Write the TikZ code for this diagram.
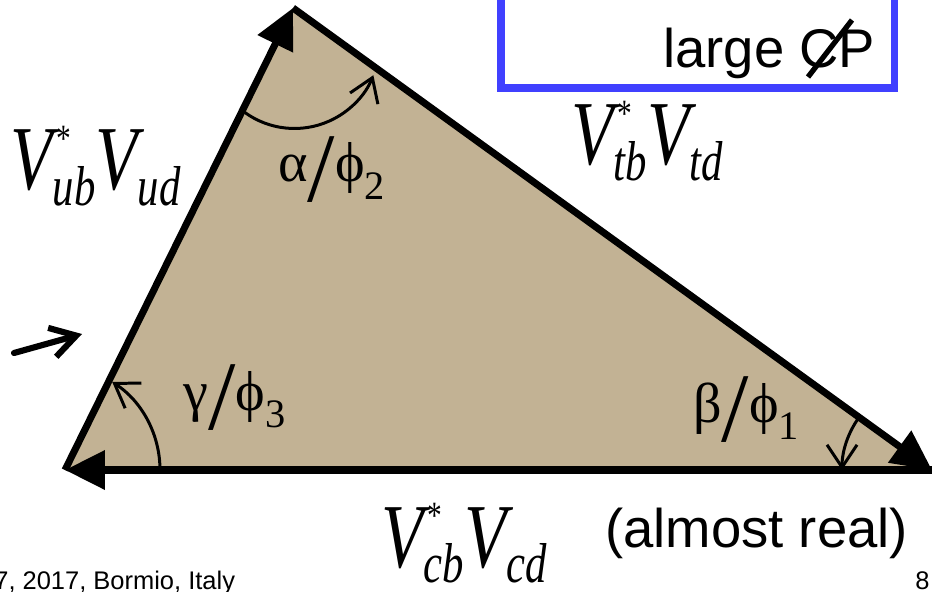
\documentclass[tikz,border=0pt]{standalone}
\usepackage{fontspec}
\setmainfont{Liberation Serif}
\newfontfamily\arialfont{Liberation Sans}
\usetikzlibrary{arrows.meta}
\definecolor{tanfill}{RGB}{194,178,148}
\definecolor{boxblue}{RGB}{64,64,255}
\newcommand{\ckmlab}[2]{\scalebox{0.76}[1]{%
{\fontsize{52}{52}\selectfont\itshape V}%
\makebox[0pt][l]{\hspace{3pt}\raisebox{22pt}{\fontsize{22}{22}\selectfont *}}%
\raisebox{-9pt}{\fontsize{32}{32}\selectfont\itshape #1}%
{\fontsize{52}{52}\selectfont\itshape V}%
\raisebox{-9pt}{\fontsize{32}{32}\selectfont\itshape #2}}}
\newcommand{\anglab}[2]{%
{\fontsize{32}{32}\selectfont #1}\raisebox{-11pt}{\fontsize{56}{56}\selectfont /}%
{\fontsize{32}{32}\selectfont ϕ}\raisebox{-10pt}{\fontsize{23}{23}\selectfont #2}}
\begin{document}
\begin{tikzpicture}[x=0.02cm,y=-0.02cm,
  edge/.style={line width=4pt,-{Triangle[length=0.8cm,width=0.76cm]}},
  anglearc/.style={line width=1.7pt,-{Straight Barb[length=0.45cm,width=0.6cm]}},
  lab/.style={inner sep=0pt,anchor=base west}]
\useasboundingbox (0,0) rectangle (932,591);
\coordinate (T) at (293,8);
\coordinate (L) at (65,470);
\coordinate (R) at (932,470);
\fill[tanfill] (T) -- (R) -- (L) -- cycle;
\draw[edge] (L) -- (T);
\draw[edge] (T) -- (R);
\draw[edge] (R) -- (L);
% angle arcs
\coordinate (ca) at (294.5,43.5);
\coordinate (cg) at (55,470);
\draw[anglearc] ([shift={(125.9:85)}]ca) arc[start angle=125.9,end angle=21.9,radius=85];
\draw[anglearc] ([shift={(0:105)}]cg) arc[start angle=0,end angle=-57,radius=105];
\draw[anglearc] ([shift={(215.9:90)}]R) arc[start angle=215.9,end angle=180,radius=90];
% pointer arrow
\coordinate (pa) at (14,353);
\coordinate (pb) at (82,334);
\draw[line width=3.5pt,line cap=round,-{Straight Barb[length=0.5cm,width=0.6cm]}] (pa) -- (pb);
% labels
\node[lab] (lub) at (10,190) {\ckmlab{ub}{ud}};
\node[lab] (ltb) at (571,165) {\ckmlab{tb}{td}};
\node[lab] (lcb) at (381,567) {\ckmlab{cb}{cd}};
\node[lab] (lal) at (278,182) {\anglab{α}{2}};
\node[lab] (lga) at (183,410) {\anglab{γ}{3}};
\node[lab] (lbe) at (693,422) {\anglab{β}{1}};
\node[lab] (real) at (605,547) {\arialfont\fontsize{31}{31}\selectfont (almost real)};
% blue box
\draw[boxblue,line width=4pt] (501,-30) rectangle (894,88);
\node[lab] (large) at (663,68) {\arialfont\fontsize{31}{31}\selectfont large CP};
\coordinate (s1) at (808,77);
\coordinate (s2) at (852,20);
\draw[line width=3pt] (s1) -- (s2);
% footer
\node[lab] (foot) at (-6,589) {\arialfont\fontsize{14.5}{14.5}\selectfont 7, 2017, Bormio, Italy};
\node[lab] (pg) at (915,589) {\arialfont\fontsize{14.5}{14.5}\selectfont 8};
\end{tikzpicture}
\end{document}
